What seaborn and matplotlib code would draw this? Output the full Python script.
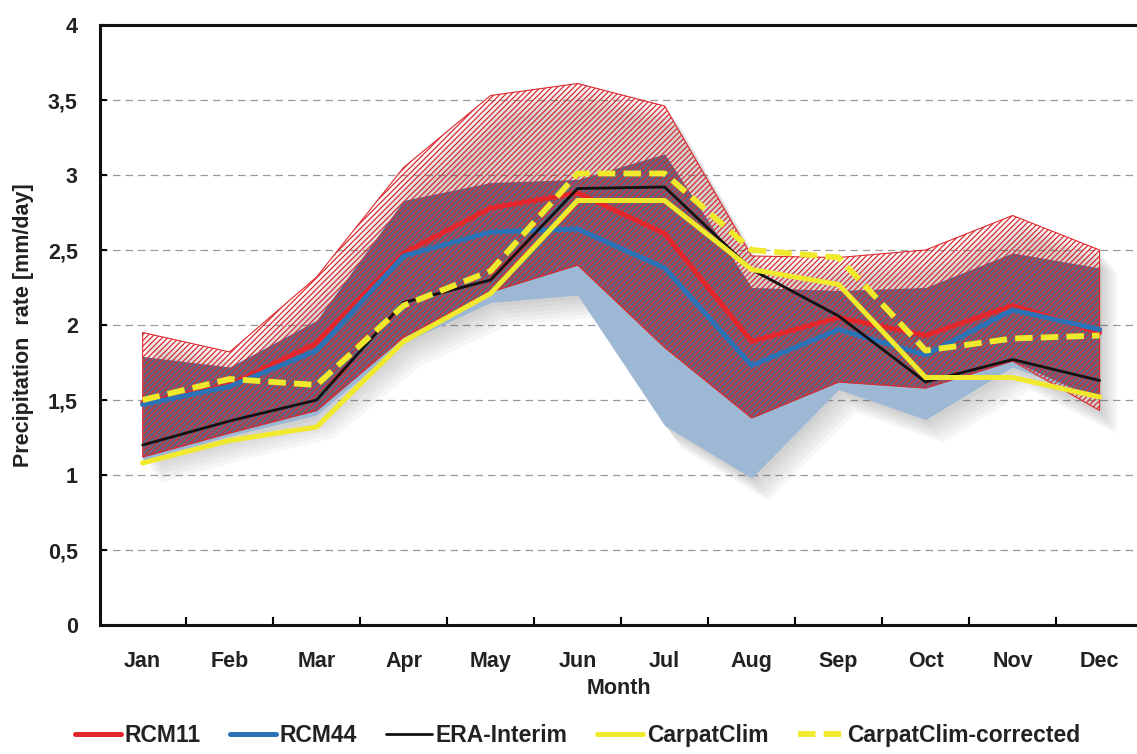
import numpy as np
import pandas as pd
import matplotlib
matplotlib.use("Agg")
import matplotlib.pyplot as plt
from matplotlib.lines import Line2D
from matplotlib.ticker import FixedLocator, FixedFormatter
import seaborn as sns

# ---------------- data ----------------
months = ['Jan', 'Feb', 'Mar', 'Apr', 'May', 'Jun', 'Jul', 'Aug', 'Sep', 'Oct', 'Nov', 'Dec']
rcm11 = [1.48, 1.60, 1.88, 2.48, 2.78, 2.88, 2.61, 1.89, 2.05, 1.93, 2.13, 1.95]
rcm44 = [1.47, 1.59, 1.83, 2.46, 2.62, 2.64, 2.38, 1.73, 1.97, 1.80, 2.10, 1.97]
era_interim = [1.20, 1.36, 1.50, 2.15, 2.30, 2.91, 2.92, 2.37, 2.06, 1.62, 1.77, 1.63]
carpatclim = [1.08, 1.23, 1.32, 1.89, 2.21, 2.83, 2.83, 2.37, 2.27, 1.65, 1.65, 1.52]
carpatclim_corr = [1.50, 1.64, 1.60, 2.13, 2.36, 3.01, 3.01, 2.50, 2.45, 1.83, 1.91, 1.93]
rcm11_max = [1.95, 1.82, 2.32, 3.05, 3.53, 3.61, 3.46, 2.46, 2.45, 2.50, 2.73, 2.50]
rcm11_min = [1.12, 1.28, 1.43, 1.92, 2.22, 2.40, 1.85, 1.38, 1.62, 1.58, 1.76, 1.43]
rcm44_max = [1.79, 1.72, 2.03, 2.83, 2.95, 2.97, 3.14, 2.25, 2.23, 2.25, 2.48, 2.38]
rcm44_min = [1.10, 1.26, 1.40, 1.88, 2.15, 2.20, 1.33, 0.98, 1.57, 1.37, 1.72, 1.50]
series_names = ['RCM11', 'RCM44', 'ERA-Interim', 'CarpatClim', 'CarpatClim-corrected']
ytick_values = [0, 0.5, 1, 1.5, 2, 2.5, 3, 3.5, 4]
ytick_labels = ['0', '0,5', '1', '1,5', '2', '2,5', '3', '3,5', '4']

# ---------------- style ----------------
sns.set_theme(style="white")
plt.rcParams['font.family'] = ['Liberation Sans', 'DejaVu Sans']
plt.rcParams['hatch.linewidth'] = 0.9

colors = {'RCM11': '#e3262b', 'RCM44': '#2b73b6', 'ERA-Interim': '#111111',
          'CarpatClim': '#f1e92c', 'CarpatClim-corrected': '#f1e92c'}
widths = {'RCM11': 3.6, 'RCM44': 3.6, 'ERA-Interim': 2.0,
          'CarpatClim': 3.6, 'CarpatClim-corrected': 4.2}
styles = {'RCM11': '-', 'RCM44': '-', 'ERA-Interim': '-',
          'CarpatClim': '-', 'CarpatClim-corrected': (0, (3.0, 1.4))}

fig = plt.figure(figsize=(11.37, 7.54), dpi=100)
ax = fig.add_axes([100 / 1137, 129 / 754, 1 - 100 / 1137, 600 / 754])

x = np.arange(len(months))

# drop shadow under the bands
lo_all = np.minimum(rcm11_min, rcm44_min)
hi_all = np.maximum(rcm11_max, rcm44_max)
for k in range(6):
    d = 0.025 + 0.025 * k
    ax.fill_between(x + d * 1.3, lo_all - d, hi_all - d, color='#444444', alpha=0.045,
                    linewidth=0, zorder=1)

# RCM44 range (light blue)
ax.fill_between(x, rcm44_min, rcm44_max, color='#9cb8d4', alpha=1.0, linewidth=0, zorder=2)
# overlap of both ranges appears darker (purple) under the red hatch
ov_lo = np.maximum(rcm11_min, rcm44_min)
ov_hi = np.minimum(rcm11_max, rcm44_max)
ax.fill_between(x, ov_lo, ov_hi, where=ov_hi > ov_lo, interpolate=True,
                color='#54506e', alpha=0.8, linewidth=0, zorder=2.5)
# RCM11 range (red hatched)
ax.fill_between(x, rcm11_min, rcm11_max, facecolor='none', edgecolor='#dc2a2e',
                hatch='//////', linewidth=0.8, zorder=3)

# lines via seaborn
df = pd.DataFrame({'month': x, 'RCM11': rcm11, 'RCM44': rcm44, 'ERA-Interim': era_interim,
                   'CarpatClim': carpatclim, 'CarpatClim-corrected': carpatclim_corr})
for i, name in enumerate(series_names):
    sns.lineplot(data=df, x='month', y=name, ax=ax, color=colors[name],
                 linewidth=widths[name], linestyle=styles[name], zorder=5 + i,
                 legend=False)

# axes formatting
ax.set_xlim(-0.49, 11.43)
ax.set_ylim(0, 4)
ax.yaxis.set_major_locator(FixedLocator(ytick_values))
ax.yaxis.set_major_formatter(FixedFormatter(ytick_labels))
ax.set_xticks(x)
ax.set_xticklabels(months)
ax.set_xticks(x[:-1] + 0.5, minor=True)
ax.tick_params(axis='x', which='major', length=0, pad=19, labelsize=15.5)
ax.tick_params(axis='x', which='minor', direction='in', length=6, width=1.5, color='black',
               bottom=True)
ax.tick_params(axis='y', which='major', direction='in', length=5, width=1.5, color='black',
               left=True, labelsize=15.5, pad=16)
for lab in ax.get_xticklabels() + ax.get_yticklabels():
    lab.set_fontweight('bold')
    lab.set_color('#222222')

ax.yaxis.grid(True, linestyle=(0, (6, 4)), color='#9a9a9a', linewidth=0.9)
ax.xaxis.grid(False)
ax.set_axisbelow(True)
for s in ['left', 'bottom', 'top']:
    ax.spines[s].set_color('#111111')
    ax.spines[s].set_linewidth(2.2)
ax.spines['right'].set_visible(False)

ax.set_xlabel('Month', fontsize=15.5, fontweight='bold', labelpad=4, color='#222222')
ax.set_ylabel('Precipitation  rate [mm/day]', fontsize=15.5, fontweight='bold',
              labelpad=10, color='#222222')

# legend
handles = [Line2D([0], [0], color=colors[n], linewidth=widths[n], linestyle=styles[n])
           for n in series_names]
leg = fig.legend(handles, series_names, loc='lower center', bbox_to_anchor=(0.508, -0.018),
                 ncol=5, frameon=False, handlelength=2.0, handletextpad=0.15,
                 columnspacing=1.3, prop={'weight': 'bold', 'size': 16.5})
for t in leg.get_texts():
    t.set_color('#222222')

fig.savefig('out.png', dpi=100)
